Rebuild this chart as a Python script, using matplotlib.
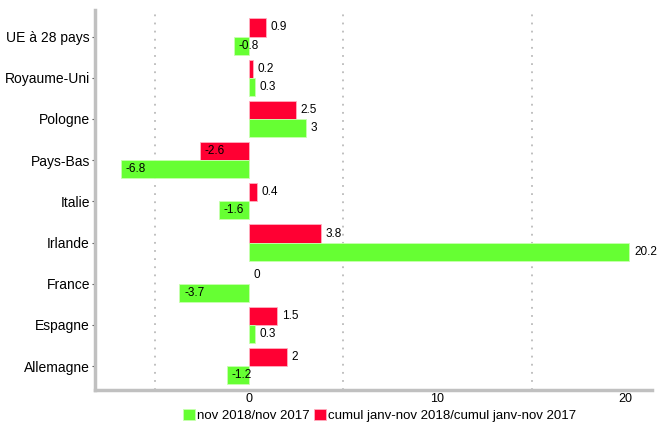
import matplotlib
matplotlib.use("Agg")
import matplotlib.pyplot as plt
import numpy as np

plt.rcParams['font.family'] = ['Liberation Sans', 'DejaVu Sans']

pays = ["Allemagne", "Espagne", "France", "Irlande", "Italie",
        "Pays-Bas", "Pologne", "Royaume-Uni", "UE à 28 pays"]
nov = [-1.2, 0.3, -3.7, 20.2, -1.6, -6.8, 3, 0.3, -0.8]
cumul = [2, 1.5, 0, 3.8, 0.4, -2.6, 2.5, 0.2, 0.9]
nov_txt = ["-1.2", "0.3", "-3.7", "20.2", "-1.6", "-6.8", "3", "0.3", "-0.8"]
cumul_txt = ["2", "1.5", "0", "3.8", "0.4", "-2.6", "2.5", "0.2", "0.9"]

vert = "#66FF33"
rouge = "#FF0033"

fig = plt.figure(figsize=(6.58, 4.24), dpi=100)
ax = fig.add_axes([0.144, 0.080, 0.847, 0.896])

y = np.arange(len(pays))
h = 0.44
lw_c = [0.6 if v != 0 else 0 for v in cumul]
lw_n = [0.6 if v != 0 else 0 for v in nov]
ax.barh(y + h / 2, cumul, height=h, color=rouge, edgecolor="#ffb0c0", linewidth=lw_c,
        label="cumul janv-nov 2018/cumul janv-nov 2017", zorder=2)
ax.barh(y - h / 2, nov, height=h, color=vert, edgecolor="#c8ffb0", linewidth=lw_n,
        label="nov 2018/nov 2017", zorder=2)

for i in range(len(pays)):
    ax.text(cumul[i] + 0.25, y[i] + h / 2, cumul_txt[i], ha="left", va="center",
            fontsize=8.5, zorder=3)
    ax.text(nov[i] + 0.25, y[i] - h / 2, nov_txt[i], ha="left", va="center",
            fontsize=8.5, zorder=3)

ax.set_xlim(-8.2, 21.4)
ax.set_ylim(-0.58, 8.64)
ax.set_xticks([0, 10, 20])
ax.set_xticks([-5, 5, 15], minor=True)
ax.set_yticks(y)
ax.set_yticklabels(pays, fontsize=10)
ax.tick_params(axis="x", which="both", length=0, labelsize=9, pad=2)
ax.tick_params(axis="y", length=2.5, color="#555555", pad=1)
ax.grid(axis="x", which="minor", color="#bbbbbb", linestyle=(0, (1, 3.5)), linewidth=1.3, zorder=0)

for s in ["top", "right"]:
    ax.spines[s].set_visible(False)
for s in ["left", "bottom"]:
    ax.spines[s].set_color("#c0c0c0")
    ax.spines[s].set_linewidth(2.5)

handles, labels = ax.get_legend_handles_labels()
fig.legend(handles[::-1], labels[::-1], loc="lower center", bbox_to_anchor=(0.577, -0.01),
           ncol=2, frameon=False, fontsize=9.5, handlelength=0.9, handleheight=0.9,
           handletextpad=0.15, columnspacing=0.3, borderaxespad=0.1)

fig.savefig("out.png", dpi=100)
